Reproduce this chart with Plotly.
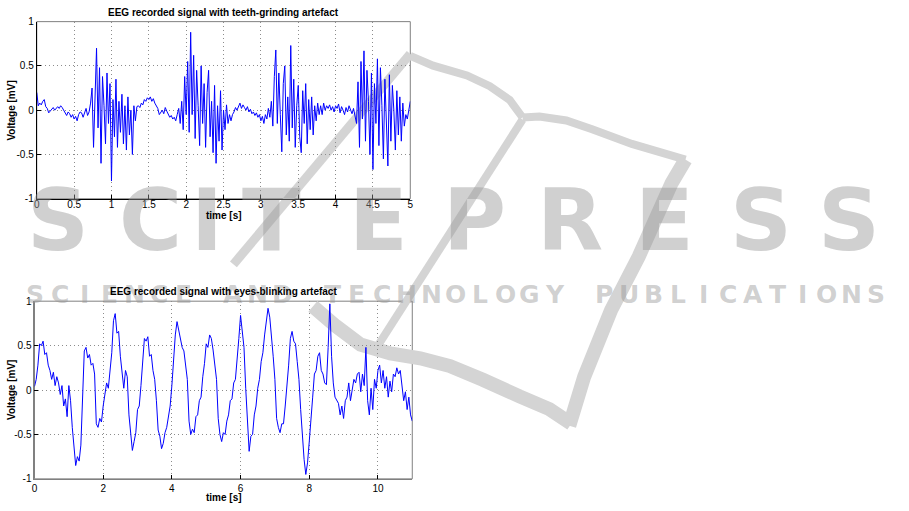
import plotly.graph_objects as go

# ---------------- data ----------------
# Teeth-grinding EEG, sampled every 0.02 s from 0 to 5 s
teeth_dt = 0.02
teeth_mv = [
    0.20, 0.05, 0.08, 0.06, 0.10,   0.12, 0.04, 0.02, -0.03, -0.01,
    0.01, 0.03, 0.00, 0.02, 0.04,   0.02, 0.05, 0.03, 0.00, -0.02,
    -0.06, -0.02, -0.04, -0.08, -0.05,   -0.10, -0.07, -0.12, -0.05, -0.02,
    -0.03, -0.08, -0.04, 0.02, -0.06,   -0.02, 0.08, 0.25, -0.42, 0.30,
    0.70, -0.20, 0.48, -0.60, 0.38,   0.05, -0.38, 0.42, -0.15, 0.30,
    -0.80, 0.12, -0.30, 0.35, -0.42,   0.10, -0.25, 0.18, -0.38, 0.05,
    -0.45, 0.15, -0.28, 0.00, -0.50,   0.05, -0.12, 0.04, 0.05, 0.03,
    0.08, 0.06, 0.12, 0.10, 0.14,   0.12, 0.15, 0.10, 0.13, 0.08,
    0.05, 0.02, -0.05, -0.02, 0.00,   -0.04, 0.03, -0.01, -0.05, -0.08,
    -0.06, -0.10, -0.08, -0.12, -0.05,   0.02, -0.15, 0.10, -0.22, 0.38,
    -0.05, 0.55, -0.25, 0.88, -0.05,   0.62, -0.32, 0.45, 0.05, -0.40,
    0.50, -0.15, 0.30, -0.42, 0.20,   0.45, -0.30, 0.10, -0.48, 0.28,
    -0.60, 0.05, -0.35, 0.22, -0.45,   0.00, -0.22, 0.06, -0.15, -0.05,
    -0.12, -0.05, -0.02, 0.03, 0.00,   0.05, 0.08, 0.02, 0.06, 0.03,
    0.00, 0.04, -0.02, 0.01, -0.04,   -0.02, -0.06, -0.03, -0.08, -0.05,
    -0.12, -0.07, -0.15, -0.05, -0.10,   0.02, -0.08, 0.10, -0.18, 0.38,
    0.68, -0.15, 0.42, -0.05, -0.47,   0.30, 0.50, -0.28, 0.15, -0.35,
    0.73, -0.20, 0.35, -0.42, 0.05,   0.28, -0.30, -0.48, 0.22, -0.15,
    0.30, -0.38, 0.12, -0.22, 0.15,   -0.28, 0.05, -0.12, 0.08, -0.05,
    0.05, -0.05, 0.08, 0.00, 0.05,   0.02, 0.06, 0.00, 0.04, -0.02,
    0.05, 0.02, 0.07, -0.03, 0.04,   0.00, -0.05, 0.03, -0.02, 0.05,
    0.01, -0.04, 0.02, -0.08, -0.15,   0.32, -0.42, 0.55, -0.10, 0.67,
    -0.35, 0.45, 0.10, -0.50, 0.42,   -0.67, 0.30, -0.15, 0.58, -0.40,
    0.48, 0.05, -0.55, 0.35, -0.20,   -0.63, 0.40, -0.35, 0.28, 0.00,
    -0.45, 0.22, -0.28, 0.15, -0.35,   0.08, -0.18, -0.05, -0.10, 0.03,
    0.10,
]

# Eyes-blinking EEG, sampled every 0.05 s from 0 to 11 s
blink_dt = 0.05
blink_mv = [
    0.04, 0.12, 0.28, 0.52, 0.50, 0.55, 0.40, 0.42, 0.28, 0.22,
    0.12, 0.20, 0.05, 0.15, 0.08, -0.05, 0.05, -0.18, -0.10, -0.30,
    0.05, -0.12, -0.42, -0.65, -0.85, -0.75, -0.80, -0.62, -0.15, 0.44,
    0.48, 0.36, 0.40, 0.28, 0.30, 0.18, -0.38, -0.42, -0.32, -0.36,
    -0.18, -0.05, 0.08, 0.02, 0.22, 0.42, 0.78, 0.86, 0.64, 0.66,
    0.38, 0.20, 0.02, 0.22, 0.15, -0.28, -0.52, -0.68, -0.58, -0.48,
    -0.22, -0.18, 0.05, 0.32, 0.58, 0.55, 0.60, 0.38, 0.40, 0.22,
    0.12, -0.12, -0.45, -0.52, -0.66, -0.60, -0.48, -0.42, -0.30, -0.18,
    0.05, 0.38, 0.62, 0.77, 0.68, 0.60, 0.48, 0.44, 0.28, 0.12,
    -0.35, -0.50, -0.44, -0.48, -0.30, -0.28, -0.12, -0.08, 0.15, 0.30,
    0.52, 0.48, 0.62, 0.58, 0.45, 0.26, 0.12, -0.32, -0.50, -0.58,
    -0.48, -0.50, -0.35, -0.28, -0.12, -0.10, 0.08, 0.12, 0.32, 0.58,
    0.84, 0.68, 0.48, 0.02, -0.42, -0.69, -0.52, -0.50, -0.28, -0.18,
    0.02, 0.12, 0.32, 0.42, 0.62, 0.75, 0.92, 0.82, 0.62, 0.38,
    0.12, -0.32, -0.42, -0.48, -0.38, -0.38, -0.18, 0.02, 0.28, 0.58,
    0.66, 0.55, 0.52, 0.32, 0.12, -0.22, -0.52, -0.78, -0.95, -0.82,
    -0.58, -0.28, -0.08, 0.18, 0.22, 0.38, 0.42, 0.22, 0.18, 0.08,
    0.06, 0.48, 0.97, 0.38, 0.08, -0.08, -0.12, -0.15, -0.28, -0.18,
    -0.32, -0.12, -0.08, 0.08, -0.12, 0.02, 0.12, 0.08, 0.18, 0.20,
    -0.02, 0.18, 0.05, 0.48, -0.12, -0.28, 0.02, -0.22, 0.12, 0.02,
    0.22, 0.28, 0.08, 0.22, 0.02, 0.15, -0.08, 0.10, -0.02, 0.18,
    0.15, 0.25, 0.18, 0.22, 0.02, -0.12, -0.02, -0.22, -0.08, -0.28,
    -0.35,
]

top_title = "EEG recorded signal with teeth-grinding artefact"
bottom_title = "EEG recorded signal with eyes-blinking artefact"
x_label = "time [s]"
y_label = "Voltage [mV]"
top_xticks = [0, 0.5, 1, 1.5, 2, 2.5, 3, 3.5, 4, 4.5, 5]
top_xticklabels = ["0", "0.5", "1", "1.5", "2", "2.5", "3", "3.5", "4", "4.5", "5"]
bottom_xticks = [0, 2, 4, 6, 8, 10]
yticks = [-1, -0.5, 0, 0.5, 1]
yticklabels = ["-1", "-0.5", "0", "0.5", "1"]

watermark_big = "SCITEPRESS"
watermark_small = "SCIENCE AND TECHNOLOGY PUBLICATIONS"

# ---------------- layout helpers ----------------
W, H = 909, 511
def px(x):
    return x / W
def py(y):
    return 1 - y / H

FONT = "Liberation Sans, Arial, Helvetica, sans-serif"
WM = "rgba(150,150,150,0.45)"
WM_SHAPE = "rgb(212,212,212)"

fig = go.Figure()
fig.add_trace(go.Scatter(y=teeth_mv, x0=0, dx=teeth_dt, mode="lines",
                         line=dict(color="#0000ff", width=1),
                         xaxis="x", yaxis="y", showlegend=False))
fig.add_trace(go.Scatter(y=blink_mv, x0=0, dx=blink_dt, mode="lines",
                         line=dict(color="#0000ff", width=1),
                         xaxis="x2", yaxis="y2", showlegend=False))

axis_common = dict(showgrid=True, gridcolor="#8c8c8c", griddash="1px,3px", gridwidth=1,
                   zeroline=False, ticks="inside", ticklen=4, tickcolor="#000",
                   showline=True, linewidth=1,
                   tickfont=dict(family=FONT, size=10, color="#000"))

fig.update_layout(
    width=W, height=H, margin=dict(l=0, r=0, t=0, b=0),
    paper_bgcolor="white", plot_bgcolor="rgba(0,0,0,0)",
    xaxis=dict(domain=[px(34), px(410)], range=[0, 5], tickvals=top_xticks,
               ticktext=top_xticklabels, anchor="y", linecolor="#000",
               ticklabelstandoff=-4, **axis_common),
    yaxis=dict(domain=[py(198), py(17)], range=[-1, 1], tickvals=yticks,
               ticktext=yticklabels, anchor="x", linecolor="#000", **axis_common),
    xaxis2=dict(domain=[px(31.7), px(412)], range=[0, 11], tickvals=bottom_xticks,
                anchor="y2", linecolor="#808080", **axis_common),
    yaxis2=dict(domain=[py(484.3), py(302.7)], range=[-1, 1], tickvals=yticks,
                ticktext=yticklabels, anchor="x2", linecolor="#808080", **axis_common),
)

# box outlines (top/right sides)
fig.add_shape(type="rect", xref="x domain", yref="y domain", x0=0, x1=1, y0=0, y1=1,
              line=dict(color="#808080", width=1), layer="below")
fig.add_shape(type="rect", xref="x2 domain", yref="y2 domain", x0=0, x1=1, y0=0, y1=1,
              line=dict(color="#808080", width=1), layer="below")

# ---------------- watermark (publisher logo) ----------------
def path(points):
    return "M " + " L ".join(f"{px(x):.4f},{py(y):.4f}" for x, y in points)

logo_strokes = [
    ([(410, 50), (232, 265)], 9),
    ([(410, 52), (433, 62), (467, 72), (490, 83), (510, 97), (523, 115)], 8),
    ([(523, 115), (540, 114), (567, 118), (593, 127), (633, 142), (687, 158)], 8),
    ([(523, 117), (375, 352)], 8),
    ([(687, 158), (673, 182), (640, 257), (612, 312), (585, 380), (570, 430)], 14),
    ([(312, 308), (335, 328), (360, 347), (390, 356), (420, 361), (450, 369),
      (483, 383), (520, 400), (550, 413), (572, 428)], 14),
]
for pts, w in logo_strokes:
    fig.add_shape(type="path", path=path(pts), xref="paper", yref="paper",
                  line=dict(color=WM_SHAPE, width=w), layer="below")

annotations = []
wm_centers = [55, 148, 205, 270, 378, 475, 571, 666, 763, 852]
for ch, cx in zip(watermark_big, wm_centers):
    annotations.append(dict(text=f"<b>{ch}</b>", x=px(cx), y=py(219.5), xref="paper", yref="paper",
                            xanchor="center", yanchor="middle", showarrow=False,
                            font=dict(family="DejaVu Sans", size=86, color=WM)))
slot = 24.9
for i, ch in enumerate(watermark_small):
    if ch == " ":
        continue
    annotations.append(dict(text=f"<b>{ch}</b>", x=px(20 + (i + 0.5) * slot), y=py(296),
                            xref="paper", yref="paper", xanchor="center", yanchor="middle",
                            showarrow=False,
                            font=dict(family="DejaVu Sans", size=25, color=WM)))

# ---------------- titles & axis labels ----------------
def label(text, x, y, angle=0):
    return dict(text=f"<b>{text}</b>", x=px(x), y=py(y), xref="paper", yref="paper",
                xanchor="center", yanchor="middle", showarrow=False, textangle=angle,
                font=dict(family=FONT, size=10, color="#000"))

annotations += [
    label(top_title, 222, 8),
    label(x_label, 222, 215.5),
    label(y_label, 9, 108, -90),
    label(bottom_title, 222, 292.5),
    label(x_label, 222, 503),
    label(y_label, 8, 393.5, -90),
]
fig.update_layout(annotations=annotations)

fig.write_html("out.html", config={"displayModeBar": False},
               post_script="document.body.style.margin='0px';")
